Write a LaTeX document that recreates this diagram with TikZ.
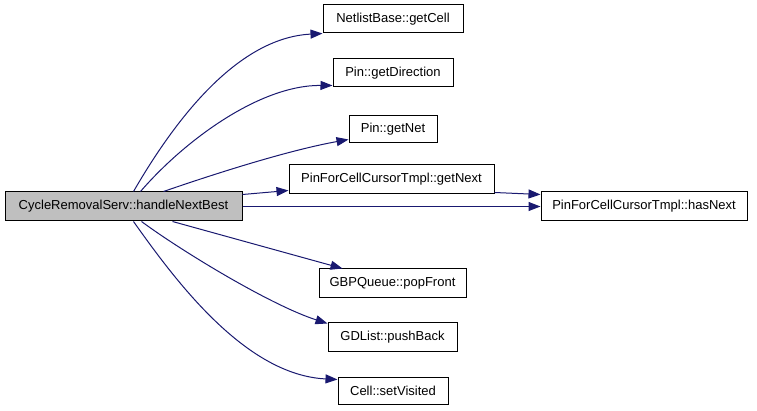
\documentclass[tikz,border=0pt]{standalone}
\usepackage{fontspec}
\setmainfont{Liberation Sans}
\usetikzlibrary{arrows.meta}
\definecolor{edgeblue}{HTML}{191970}
\definecolor{mainfill}{HTML}{BFBFBF}
\begin{document}
\begin{tikzpicture}[x=1pt,y=-1pt,
  box/.style={draw=black, line width=1pt, fill=white, inner sep=0pt, font=\fontsize{13}{15}\selectfont},
  call/.style={draw=edgeblue, line width=1pt, -{Triangle[length=12pt,width=9pt,fill=edgeblue]}}]
\useasboundingbox (0,0) rectangle (757,411);
\node[box, fill=mainfill, minimum width=237pt, minimum height=29pt] (main) at (123.5,206.5) {CycleRemovalServ::handleNextBest};
\node[box, minimum width=140pt, minimum height=28pt] (getCell) at (393,19) {NetlistBase::getCell};
\node[box, minimum width=120pt, minimum height=28pt] (getDirection) at (393,73) {Pin::getDirection};
\node[box, minimum width=88pt, minimum height=27pt] (getNet) at (393,129.5) {Pin::getNet};
\node[box, minimum width=205pt, minimum height=29pt] (getNext) at (391.5,179.5) {PinForCellCursorTmpl::getNext};
\node[box, minimum width=206pt, minimum height=29pt] (hasNext) at (644,206.5) {PinForCellCursorTmpl::hasNext};
\node[box, minimum width=147pt, minimum height=29pt] (popFront) at (392.5,283.5) {GBPQueue::popFront};
\node[box, minimum width=129pt, minimum height=28pt] (pushBack) at (392.5,337) {GDList::pushBack};
\node[box, minimum width=110pt, minimum height=27pt] (setVisited) at (393,390.5) {Cell::setVisited};

\draw[call] ([xshift=129pt]main.north west) .. controls (172,125) and (235,38) .. (getCell.south west);
\draw[call] ([xshift=136pt]main.north west) .. controls (185,140) and (260,85) .. ([yshift=2pt]getDirection.south west);
\draw[call] ([xshift=159pt]main.north west) .. controls (220,172) and (290,150) .. ([yshift=4pt]getNet.south west);
\draw[call] ([yshift=-3pt]main.north east) -- ([yshift=4pt]getNext.south west);
\draw[call] (main.east) -- (hasNext.west);
\draw[call] ([yshift=2pt]getNext.south east) -- ([yshift=-3pt]hasNext.north west);
\draw[call] ([xshift=168pt]main.south west) -- ([xshift=24pt]popFront.north west);
\draw[call] ([xshift=137pt]main.south west) .. controls (180,250) and (270,305) .. ([yshift=-1pt]pushBack.north west);
\draw[call] ([xshift=129pt]main.south west) .. controls (175,280) and (245,375) .. ([yshift=-3pt]setVisited.north west);
\end{tikzpicture}
\end{document}
